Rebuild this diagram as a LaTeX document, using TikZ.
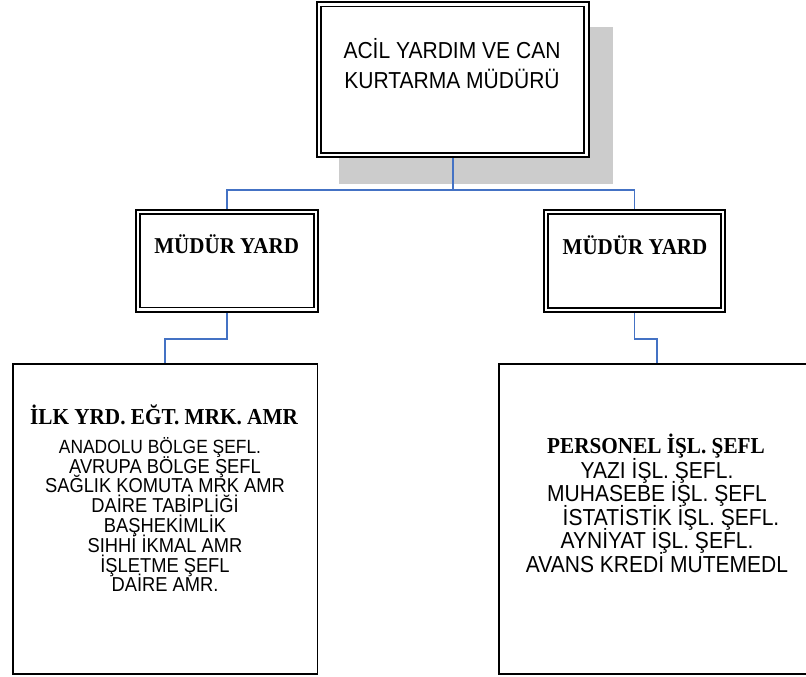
\documentclass[tikz,border=0pt]{standalone}
\usepackage{fontspec}
\newfontfamily\arialf[FakeStretch=0.91]{Liberation Sans}
\newfontfamily\timesf[FakeStretch=0.93]{Liberation Serif}
\usetikzlibrary{backgrounds}
\definecolor{linkblue}{HTML}{4472C4}
\definecolor{shadowgray}{HTML}{CCCCCC}
\begin{document}
\begin{tikzpicture}[x=1bp,y=-1bp,
  dblbox/.style={draw=black, line width=1.8bp, double=white, fill=white, inner sep=0pt},
  listbox/.style={draw=black, line width=1.7bp, inner sep=0pt,
    minimum width=304.8bp, minimum height=310bp},
  conn/.style={draw=linkblue, line width=1.8bp},
  txt/.style={anchor=base, inner sep=0pt},
  sanstext/.style={txt, font=\arialf\fontsize{#1}{#1}\selectfont},
  boldtext/.style={txt, font=\timesf\bfseries\fontsize{#1}{#1}\selectfont}]
\useasboundingbox (0,0) rectangle (806,677);

% boxes
\node[dblbox, double distance=2.7bp, minimum width=267.5bp, minimum height=150.7bp]
  (top) at (452.75,79.7) {};
\node[dblbox, double distance=2.4bp, minimum width=177.8bp, minimum height=97.9bp]
  (myl) at (226.9,260.65) {};
\node[dblbox, double distance=2.4bp, minimum width=176.8bp, minimum height=97.8bp]
  (myr) at (634.4,260.9) {};
\node[listbox] (lbox) at (165.1,519.2) {};
\node[listbox, minimum width=315bp] (rbox) at (656.7,519.2) {};
\coordinate (bus) at (452.75,190);

% shadow and connectors behind the boxes
\begin{scope}[on background layer]
  \fill[shadowgray] (339,27) rectangle (612.7,184.3);
  \draw[conn] (top.south) -- (bus);
  \draw[conn] (myl.north) |- (bus) -| (myr.north);
  \draw[conn] (myl.south) -- ++(0,28.7) -| (lbox.north);
  \draw[conn] (myr.south) -- ++(0,28.5) -| (rbox.north);
\end{scope}

% top box
\node[sanstext=23.2] (t1) at (452,58.3) {ACİL YARDIM VE CAN};
\node[sanstext=23.2] (t2) at (452,88.3) {KURTARMA MÜDÜRÜ};

% deputies
\node[boldtext=22.7] (yl) at (226.7,253.3) {MÜDÜR YARD};
\node[boldtext=22.7] (yr) at (635,254) {MÜDÜR YARD};

% left list
\node[boldtext=22.9] (lh) at (164,424) {İLK YRD. EĞT. MRK. AMR};
\node[sanstext=19.2] (l1) at (160,453.3) {ANADOLU BÖLGE ŞEFL.};
\node[sanstext=20.2] (l2) at (165,473.1) {AVRUPA BÖLGE ŞEFL};
\node[sanstext=20.2] (l3) at (165,492.9) {SAĞLIK KOMUTA MRK AMR};
\node[sanstext=20.2] (l4) at (165,512.7) {DAİRE TABİPLİĞİ};
\node[sanstext=20.2] (l5) at (165,532.5) {BAŞHEKİMLİK};
\node[sanstext=20.2] (l6) at (165,552.3) {SIHHİ İKMAL AMR};
\node[sanstext=20.2] (l7) at (165,572.1) {İŞLETME ŞEFL};
\node[sanstext=20.2] (l8) at (165,591.9) {DAİRE AMR.};

% right list
\node[boldtext=22.9] (rh) at (656,453.5) {PERSONEL İŞL. ŞEFL};
\node[sanstext=23.2] (r1) at (657,478) {YAZI İŞL. ŞEFL.};
\node[sanstext=23.2] (r2) at (657,501.5) {MUHASEBE İŞL. ŞEFL};
\node[sanstext=23.2] (r3) at (671,525) {İSTATİSTİK İŞL. ŞEFL.};
\node[sanstext=23.2] (r4) at (657,548.5) {AYNİYAT İŞL. ŞEFL.};
\node[sanstext=23.2] (r5) at (657,572) {AVANS KREDİ MUTEMEDL};
\end{tikzpicture}
\end{document}
